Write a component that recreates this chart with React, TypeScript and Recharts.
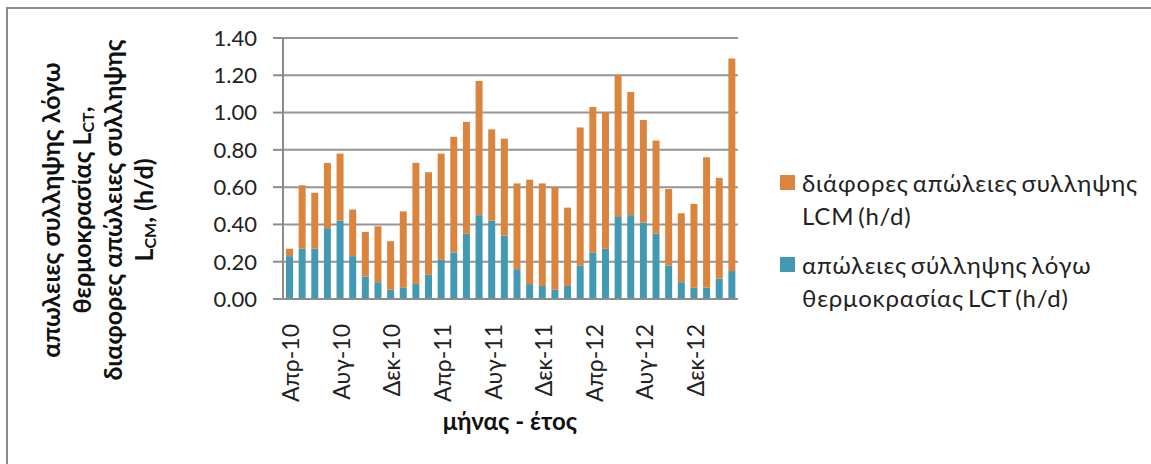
import React from 'react';
import { Bar, BarChart, CartesianGrid, Legend, XAxis, YAxis } from 'recharts';

const months = [
  'Απρ-10', 'Μαϊ-10', 'Ιουν-10', 'Ιουλ-10', 'Αυγ-10', 'Σεπ-10', 'Οκτ-10', 'Νοε-10', 'Δεκ-10',
  'Ιαν-11', 'Φεβ-11', 'Μαρ-11', 'Απρ-11', 'Μαϊ-11', 'Ιουν-11', 'Ιουλ-11', 'Αυγ-11', 'Σεπ-11',
  'Οκτ-11', 'Νοε-11', 'Δεκ-11', 'Ιαν-12', 'Φεβ-12', 'Μαρ-12', 'Απρ-12', 'Μαϊ-12', 'Ιουν-12',
  'Ιουλ-12', 'Αυγ-12', 'Σεπ-12', 'Οκτ-12', 'Νοε-12', 'Δεκ-12', 'Ιαν-13', 'Φεβ-13', 'Μαρ-13',
];

// απώλειες λόγω θερμοκρασίας LCT (h/d)
const lct = [
  0.23, 0.27, 0.27, 0.38, 0.42, 0.23, 0.12, 0.09, 0.05,
  0.06, 0.08, 0.13, 0.21, 0.25, 0.35, 0.45, 0.42, 0.34,
  0.16, 0.08, 0.07, 0.05, 0.07, 0.18, 0.25, 0.27, 0.44,
  0.45, 0.41, 0.35, 0.18, 0.09, 0.06, 0.06, 0.11, 0.15,
];

// διάφορες απώλειες LCM (h/d)
const lcm = [
  0.04, 0.34, 0.30, 0.35, 0.36, 0.25, 0.24, 0.30, 0.26,
  0.41, 0.65, 0.55, 0.57, 0.62, 0.60, 0.72, 0.49, 0.52,
  0.46, 0.56, 0.55, 0.55, 0.42, 0.74, 0.78, 0.73, 0.76,
  0.66, 0.55, 0.50, 0.41, 0.37, 0.45, 0.70, 0.54, 1.14,
];

const yTicks = [0, 0.2, 0.4, 0.6, 0.8, 1.0, 1.2, 1.4];

const lcmName = 'διάφορες απώλειες συλληψης LCM (h/d)';
const lctName = 'απώλειες σύλληψης λόγω θερμοκρασίας LCT (h/d)';

const chartData = months.map((m, i) => ({ month: m, lct: lct[i], lcm: lcm[i] }));

const FONT = 'Lato, "Noto Sans", sans-serif';
const ORANGE = '#db843d';
const BLUE = '#4299b1';
const AXIS = '#8c8c8c';

const XTick = ({ x, y, payload }: any) => {
  const ty = y + 17;
  return (
    <text
      x={x + 1}
      y={ty}
      transform={`rotate(-90 ${x + 1} ${ty})`}
      textAnchor="end"
      dominantBaseline="central"
      fontSize={23}
      fill="#222"
      fontFamily={FONT}
    >
      {payload.value}
    </text>
  );
};

const YTitle = () => {
  const cy = 210;
  const line = (cx: number, content: React.ReactNode) => (
    <text
      transform={`translate(${cx} ${cy}) rotate(-90)`}
      textAnchor="middle"
      dominantBaseline="central"
      fontSize={25}
      fontWeight="bold"
      fill="#111"
      fontFamily={FONT}
    >
      {content}
    </text>
  );
  return (
    <g>
      {line(50, 'απωλειες συλληψης λόγω')}
      {line(81, <>θερμοκρασίας L<tspan fontSize={16} dy={6}>CT</tspan><tspan dy={-6}>,</tspan></>)}
      {line(112, 'διαφορες απώλειες συλληψης')}
      {line(143, <>L<tspan fontSize={16} dy={6}>CM</tspan><tspan dy={-6}>, (h/d)</tspan></>)}
    </g>
  );
};

const XTitle = () => (
  <text
    x={510}
    y={420}
    textAnchor="middle"
    dominantBaseline="central"
    fontSize={24}
    fontWeight="bold"
    fill="#111"
    fontFamily={FONT}
  >
    μήνας - έτος
  </text>
);

const legendItems = [
  { color: ORANGE, lines: ['διάφορες απώλειες συλληψης', 'LCM (h/d)'] },
  { color: BLUE, lines: ['απώλειες σύλληψης λόγω', 'θερμοκρασίας LCT (h/d)'] },
];

const renderLegend = () => (
  <div
    style={{
      fontFamily: FONT,
      fontSize: 24,
      color: '#222',
      lineHeight: '33px',
      letterSpacing: 0.8,
      wordSpacing: -3,
    }}
  >
    {legendItems.map((it, i) => (
      <div key={i} style={{ display: 'flex', alignItems: 'flex-start', marginBottom: i === 0 ? 16 : 0 }}>
        <span
          style={{
            display: 'inline-block',
            width: 15,
            height: 15,
            background: it.color,
            marginTop: 9,
            marginRight: 7,
            flex: 'none',
          }}
        />
        <div>
          {it.lines.map((l, j) => (
            <div key={j} style={{ whiteSpace: 'nowrap' }}>{l}</div>
          ))}
        </div>
      </div>
    ))}
  </div>
);

export default function App() {
  return (
    <div
      style={{
        position: 'absolute',
        left: 0,
        top: 0,
        width: 1151,
        height: 464,
        overflow: 'hidden',
        background: '#fff',
        fontFamily: FONT,
      }}
    >
      <div
        style={{
          position: 'absolute',
          left: 6,
          top: 7,
          width: 1200,
          height: 500,
          borderTop: '2px solid #8c8c8c',
          borderLeft: '2px solid #8c8c8c',
        }}
      />
      <div style={{ position: 'absolute', left: 0, top: 0 }}>
        <BarChart
          width={1151}
          height={464}
          data={chartData}
          margin={{ top: 38, right: 413, left: 203, bottom: 15 }}
          barSize={7}
        >
          <CartesianGrid vertical={false} stroke="#959595" strokeWidth={2} />
          <XAxis
            dataKey="month"
            interval={3}
            height={150}
            tick={<XTick />}
            tickLine={false}
            axisLine={{ stroke: AXIS, strokeWidth: 2 }}
            label={<XTitle />}
          />
          <YAxis
            domain={[0, 1.4]}
            ticks={yTicks}
            width={80}
            tickFormatter={(v: number) => v.toFixed(2)}
            tick={{ fontSize: 22, fill: '#222', fontFamily: FONT }}
            tickSize={10}
            tickMargin={16}
            tickLine={{ stroke: AXIS, strokeWidth: 2 }}
            axisLine={{ stroke: AXIS, strokeWidth: 2 }}
            label={<YTitle />}
          />
          <Legend
            layout="horizontal"
            verticalAlign="middle"
            align="center"
            content={renderLegend}
            wrapperStyle={{ left: 780, top: 166, width: 370 }}
          />
          <Bar dataKey="lct" name={lctName} stackId="a" fill={BLUE} isAnimationActive={false} />
          <Bar dataKey="lcm" name={lcmName} stackId="a" fill={ORANGE} isAnimationActive={false} />
        </BarChart>
      </div>
    </div>
  );
}
